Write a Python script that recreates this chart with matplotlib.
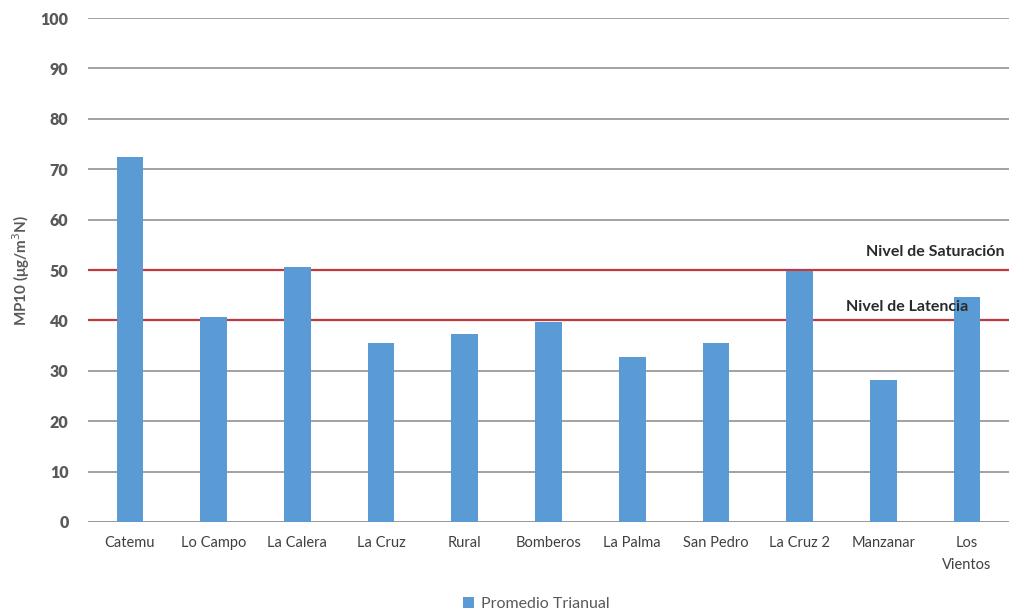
import matplotlib.pyplot as plt
import numpy as np

plt.rcParams['font.family'] = ['Lato', 'DejaVu Sans']

estaciones = ['Catemu', 'Lo Campo', 'La Calera', 'La Cruz', 'Rural', 'Bomberos',
              'La Palma', 'San Pedro', 'La Cruz 2', 'Manzanar', 'Los\nVientos']
promedio = [72.4, 40.6, 50.6, 35.5, 37.3, 39.6, 32.8, 35.5, 49.8, 28.2, 44.7]
saturacion = 50
latencia = 40

fig = plt.figure(figsize=(10.12, 6.13), dpi=100)
ax = fig.add_axes([0.087, 0.1485, 0.91, 0.822])

x = np.arange(len(estaciones))
ax.bar(x, promedio, width=0.32, color='#5B9BD5', label='Promedio Trianual', zorder=3)

ax.set_ylim(0, 100)
ax.set_xlim(-0.5, len(estaciones) - 0.5)
ax.set_yticks(range(0, 101, 10))
ax.yaxis.grid(True, color='#9a9a9a', linewidth=1.3, zorder=0)
ax.set_axisbelow(True)
for s in ax.spines.values():
    s.set_visible(False)
ax.axhline(0, color='#9a9a9a', linewidth=1.3, zorder=1)

ax.axhline(saturacion, color='#C0393F', linewidth=1.6, zorder=2)
ax.axhline(latencia, color='#C0393F', linewidth=1.6, zorder=2)
ax.text(10.45, saturacion + 2.2, 'Nivel de Saturación', ha='right', va='bottom',
        fontsize=11.5, fontweight='bold', color='#2b2b2b', zorder=4)
ax.text(8.55, latencia + 1.3, 'Nivel de Latencia', ha='left', va='bottom',
        fontsize=11.5, fontweight='bold', color='#2b2b2b', zorder=4)

ax.set_xticks(x)
ax.set_xticklabels(estaciones, fontsize=10.5, color='#404040', linespacing=1.7)
ax.tick_params(axis='x', length=0, pad=10)
ax.tick_params(axis='y', length=0, pad=14, labelsize=11.5, labelcolor='#595959')
for t in ax.get_yticklabels():
    t.set_fontweight('heavy')

ax.set_ylabel('MP10 (μg/m$^3$N)', fontsize=11, fontweight='bold', color='#595959', labelpad=6)

fig.legend(loc='lower center', bbox_to_anchor=(0.53, -0.02), frameon=False, fontsize=11.5,
           handlelength=0.7, handleheight=0.7, handletextpad=0.4, labelcolor='#595959')

fig.savefig('out.png', dpi=100)
